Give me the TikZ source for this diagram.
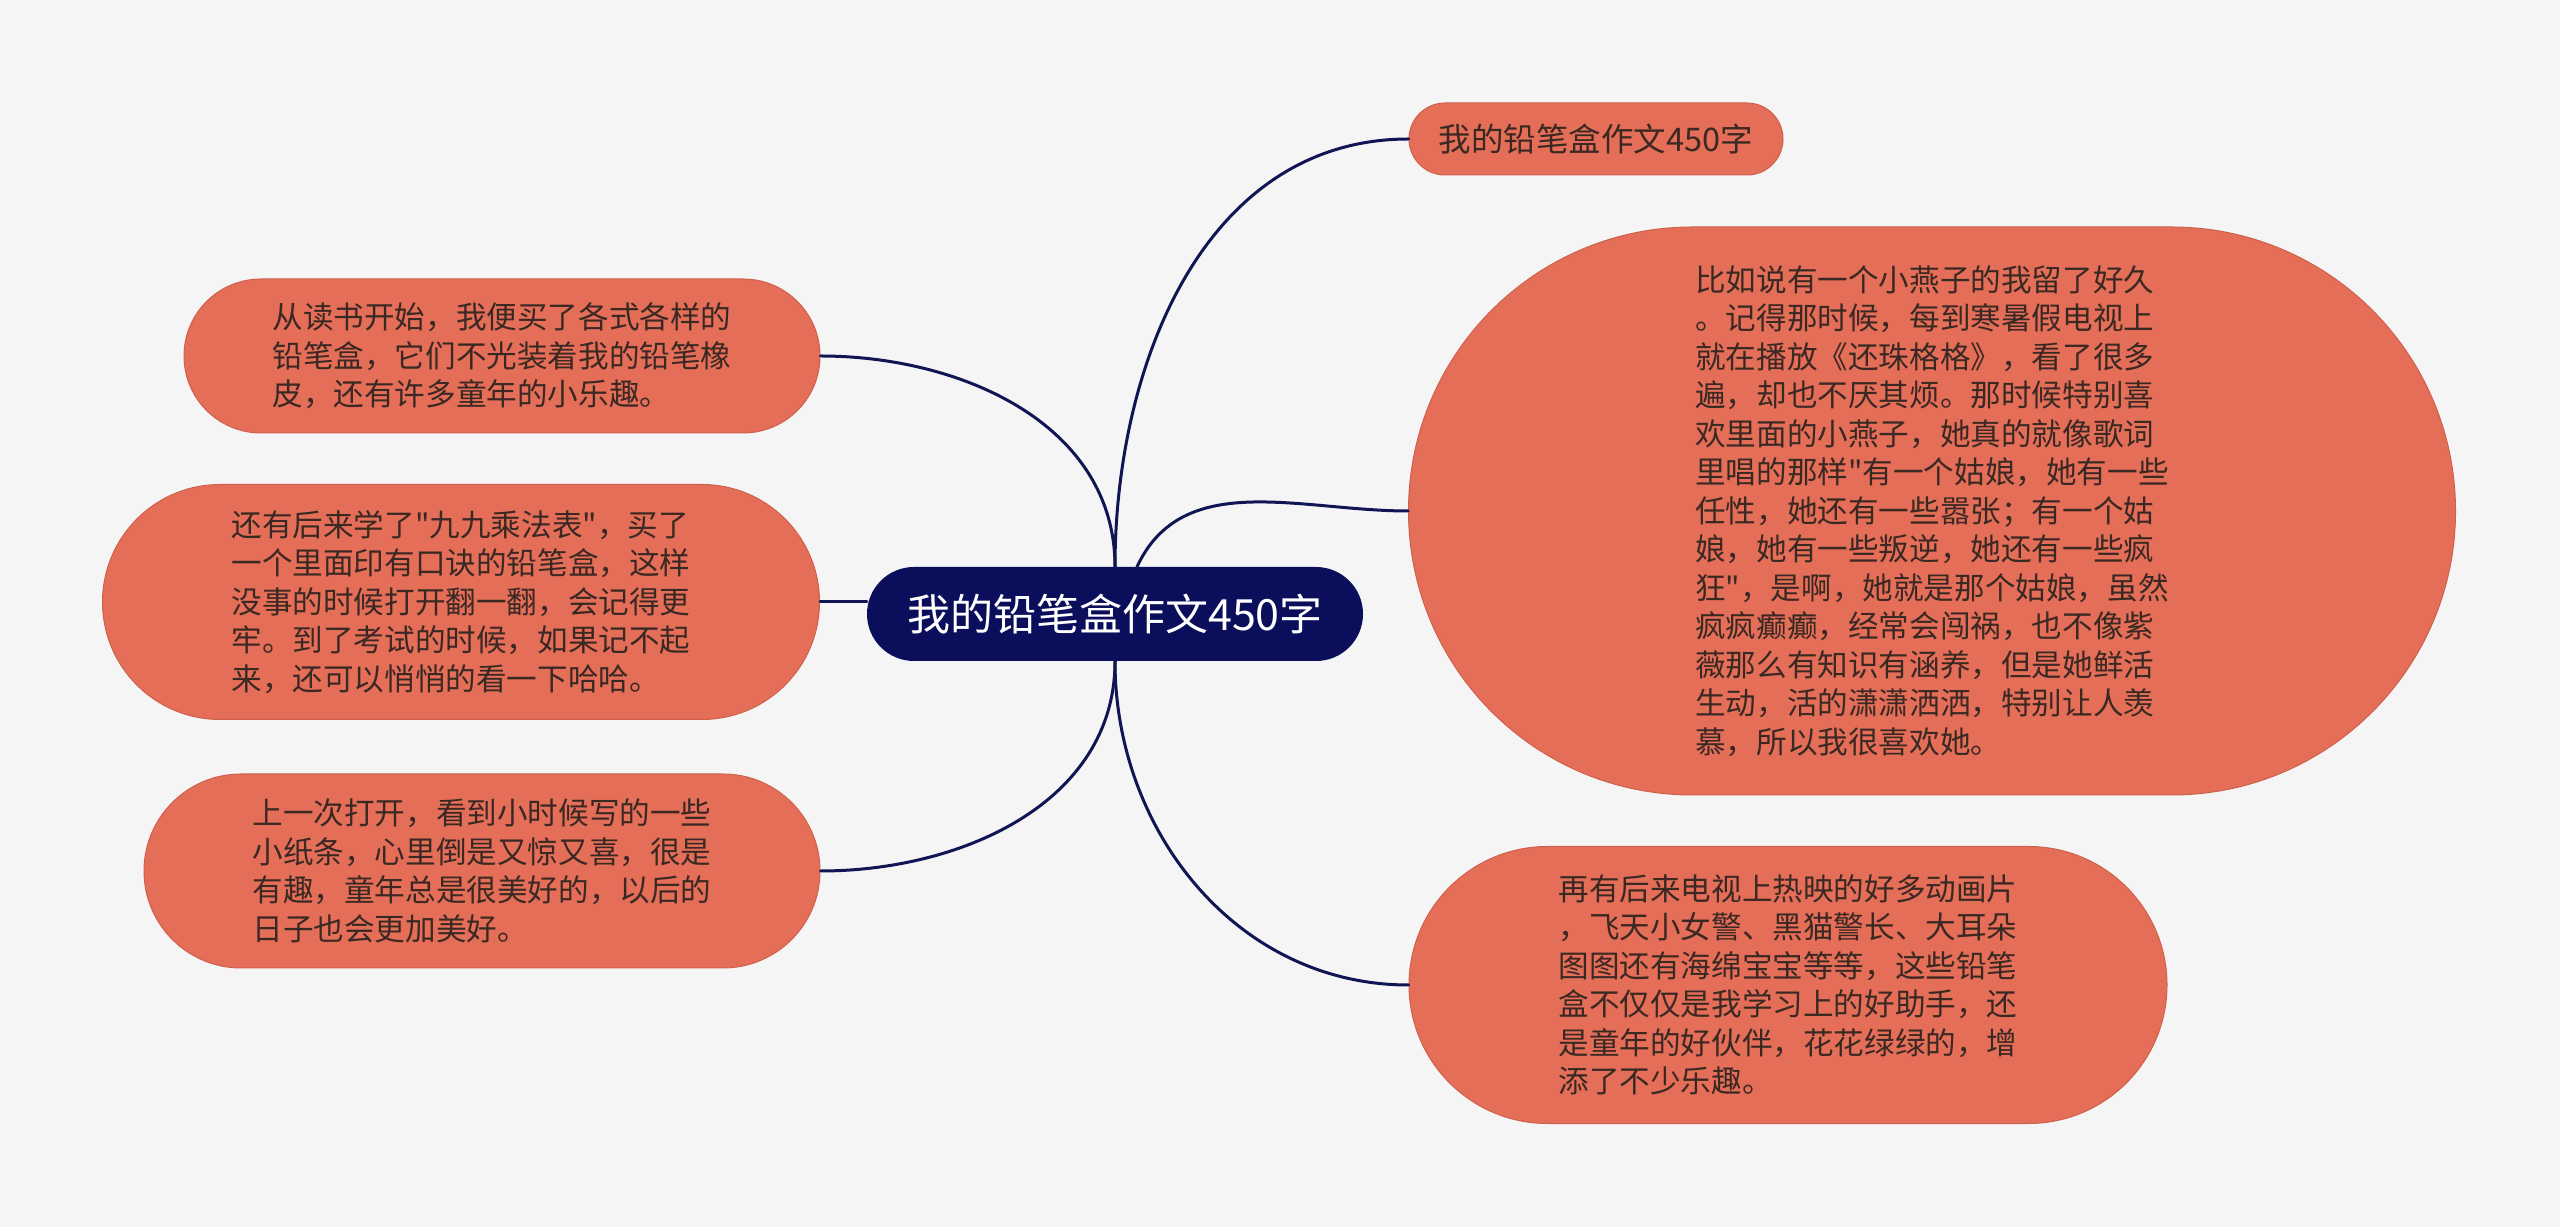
\documentclass[tikz,border=0pt]{standalone}
\usepackage{fontspec}
\newfontfamily\cjk{Noto Sans CJK SC}
\usetikzlibrary{shapes.misc}
\definecolor{bgcol}{HTML}{F5F5F5}
\definecolor{leafcol}{HTML}{E46E58}
\definecolor{leafline}{HTML}{CF604C}
\definecolor{rootcol}{HTML}{0B0F5B}
\definecolor{linkcol}{HTML}{101553}
\definecolor{textcol}{HTML}{3A2823}
\begin{document}
\begin{tikzpicture}[x=1pt, y=1pt, line cap=round, line join=round]
	\tikzset{leaf/.style={rounded rectangle, fill=leafcol, draw=leafline, line width=1pt, text=textcol, align=left, font=\cjk\fontsize{30.6}{38.5}\selectfont, inner sep=0pt},
		root/.style={rounded rectangle, fill=rootcol, text=white, font=\cjk\fontsize{43}{52}\selectfont, inner sep=0pt},
		link/.style={draw=linkcol, line width=3pt}}
	\fill[bgcol] (0,0) rectangle (2560,1227);
	\useasboundingbox (0,0) rectangle (2560,1227);
	% centre
	\node[root, minimum width=496pt, minimum height=94pt] (essay) at (1115,613) {我的铅笔盒作文450字};
	% right side
	\node[leaf, minimum width=374pt, minimum height=72pt, font=\cjk\fontsize{32.5}{40}\selectfont] (title) at (1596,1088) {我的铅笔盒作文450字};
	\node[leaf, minimum width=1047pt, minimum height=568pt] (swallow) at (1932,716) {比如说有一个小燕子的我留了好久\\
		。记得那时候，每到寒暑假电视上\\
		就在播放《还珠格格》，看了很多\\
		遍，却也不厌其烦。那时候特别喜\\
		欢里面的小燕子，她真的就像歌词\\
		里唱的那样"有一个姑娘，她有一些\\
		任性，她还有一些嚣张；有一个姑\\
		娘，她有一些叛逆，她还有一些疯\\
		狂"，是啊，她就是那个姑娘，虽然\\
		疯疯癫癫，经常会闯祸，也不像紫\\
		薇那么有知识有涵养，但是她鲜活\\
		生动，活的潇潇洒洒，特别让人羡\\
		慕，所以我很喜欢她。};
	\node[leaf, minimum width=758pt, minimum height=277pt] (cartoon) at (1788,242) {再有后来电视上热映的好多动画片\\
		，飞天小女警、黑猫警长、大耳朵\\
		图图还有海绵宝宝等等，这些铅笔\\
		盒不仅仅是我学习上的好助手，还\\
		是童年的好伙伴，花花绿绿的，增\\
		添了不少乐趣。};
	% left side
	\node[leaf, minimum width=636pt, minimum height=154pt] (school) at (502,871) {从读书开始，我便买了各式各样的\\
		铅笔盒，它们不光装着我的铅笔橡\\
		皮，还有许多童年的小乐趣。};
	\node[leaf, minimum width=717pt, minimum height=235pt] (table) at (461,625) {还有后来学了"九九乘法表"，买了\\
		一个里面印有口诀的铅笔盒，这样\\
		没事的时候打开翻一翻，会记得更\\
		牢。到了考试的时候，如果记不起\\
		来，还可以悄悄的看一下哈哈。};
	\node[leaf, minimum width=676pt, minimum height=194pt] (notes) at (482,356) {上一次打开，看到小时候写的一些\\
		小纸条，心里倒是又惊又喜，很是\\
		有趣，童年总是很美好的，以后的\\
		日子也会更加美好。};
	% links
	\draw[link] (essay.north) to[out=90,in=180] (title.west);
	\draw[link] ([xshift=22pt]essay.north) to[out=65,in=180] (swallow.west);
	\draw[link] (essay.south) to[out=-90,in=180] (cartoon.west);
	\draw[link] (essay.north) to[out=90,in=0] (school.east);
	\draw[link] (table.east) -- (table.east -| essay.west);
	\draw[link] (essay.south) to[out=-90,in=0] (notes.east);
\end{tikzpicture}
\end{document}
